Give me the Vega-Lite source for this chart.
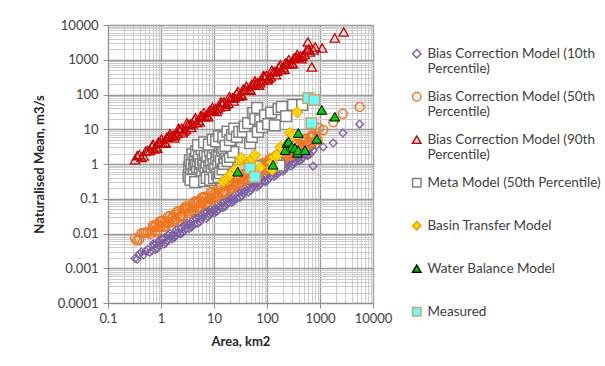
{
  "$schema": "https://vega.github.io/schema/vega-lite/v6.json",
  "width": 265,
  "height": 278,
  "autosize": "none",
  "padding": {"left": 108, "top": 25, "right": 232, "bottom": 63},
  "background": "#ffffff",
  "config": {
    "font": "Lato",
    "view": {"stroke": "#8c8c8c", "strokeWidth": 1},
    "axis": {"domainColor": "#8c8c8c", "labelColor": "#404040", "titleColor": "#262626"}
  },
  "data": {"values": [
{"series":"Bias Correction Model (10th Percentile)","x":0.324,"y":0.0019},{"series":"Bias Correction Model (10th Percentile)","x":0.389,"y":0.00257},{"series":"Bias Correction Model (10th Percentile)","x":0.468,"y":0.0024},{"series":"Bias Correction Model (10th Percentile)","x":0.562,"y":0.00347},{"series":"Bias Correction Model (10th Percentile)","x":0.676,"y":0.00324},{"series":"Bias Correction Model (10th Percentile)","x":0.813,"y":0.00501},{"series":"Bias Correction Model (10th Percentile)","x":0.977,"y":0.00513},{"series":"Bias Correction Model (10th Percentile)","x":1.175,"y":0.00759},{"series":"Bias Correction Model (10th Percentile)","x":1.413,"y":0.00692},{"series":"Bias Correction Model (10th Percentile)","x":1.698,"y":0.00933},{"series":"Bias Correction Model (10th Percentile)","x":2.042,"y":0.0107},{"series":"Bias Correction Model (10th Percentile)","x":2.455,"y":0.0148},{"series":"Bias Correction Model (10th Percentile)","x":2.951,"y":0.0135},{"series":"Bias Correction Model (10th Percentile)","x":3.548,"y":0.0195},{"series":"Bias Correction Model (10th Percentile)","x":4.266,"y":0.0182},{"series":"Bias Correction Model (10th Percentile)","x":5.129,"y":0.0282},{"series":"Bias Correction Model (10th Percentile)","x":6.166,"y":0.0288},{"series":"Bias Correction Model (10th Percentile)","x":7.413,"y":0.0427},{"series":"Bias Correction Model (10th Percentile)","x":8.913,"y":0.0389},{"series":"Bias Correction Model (10th Percentile)","x":10.72,"y":0.0525},{"series":"Bias Correction Model (10th Percentile)","x":12.88,"y":0.0603},{"series":"Bias Correction Model (10th Percentile)","x":15.49,"y":0.0832},{"series":"Bias Correction Model (10th Percentile)","x":18.62,"y":0.0759},{"series":"Bias Correction Model (10th Percentile)","x":22.39,"y":0.110},{"series":"Bias Correction Model (10th Percentile)","x":26.92,"y":0.102},{"series":"Bias Correction Model (10th Percentile)","x":32.36,"y":0.158},{"series":"Bias Correction Model (10th Percentile)","x":38.90,"y":0.162},{"series":"Bias Correction Model (10th Percentile)","x":46.77,"y":0.240},{"series":"Bias Correction Model (10th Percentile)","x":56.23,"y":0.224},{"series":"Bias Correction Model (10th Percentile)","x":67.61,"y":0.295},{"series":"Bias Correction Model (10th Percentile)","x":81.28,"y":0.347},{"series":"Bias Correction Model (10th Percentile)","x":97.72,"y":0.468},{"series":"Bias Correction Model (10th Percentile)","x":117.5,"y":0.437},{"series":"Bias Correction Model (10th Percentile)","x":141.3,"y":0.617},{"series":"Bias Correction Model (10th Percentile)","x":169.8,"y":0.589},{"series":"Bias Correction Model (10th Percentile)","x":204.2,"y":0.891},{"series":"Bias Correction Model (10th Percentile)","x":245.5,"y":0.933},{"series":"Bias Correction Model (10th Percentile)","x":295.1,"y":1.349},{"series":"Bias Correction Model (10th Percentile)","x":354.8,"y":1.259},{"series":"Bias Correction Model (10th Percentile)","x":426.6,"y":1.66},{"series":"Bias Correction Model (10th Percentile)","x":512.9,"y":1.95},{"series":"Bias Correction Model (10th Percentile)","x":616.6,"y":2.63},{"series":"Bias Correction Model (10th Percentile)","x":741.3,"y":2.455},{"series":"Bias Correction Model (10th Percentile)","x":851.1,"y":3.388},
{"series":"Bias Correction Model (10th Percentile)","x":0.355,"y":0.00182},{"series":"Bias Correction Model (10th Percentile)","x":0.427,"y":0.00295},{"series":"Bias Correction Model (10th Percentile)","x":0.513,"y":0.00309},{"series":"Bias Correction Model (10th Percentile)","x":0.617,"y":0.00288},{"series":"Bias Correction Model (10th Percentile)","x":0.741,"y":0.00468},{"series":"Bias Correction Model (10th Percentile)","x":0.891,"y":0.00457},{"series":"Bias Correction Model (10th Percentile)","x":1.072,"y":0.00708},{"series":"Bias Correction Model (10th Percentile)","x":1.288,"y":0.00617},{"series":"Bias Correction Model (10th Percentile)","x":1.549,"y":0.00832},{"series":"Bias Correction Model (10th Percentile)","x":1.862,"y":0.00851},{"series":"Bias Correction Model (10th Percentile)","x":2.239,"y":0.01023},{"series":"Bias Correction Model (10th Percentile)","x":2.692,"y":0.0166},{"series":"Bias Correction Model (10th Percentile)","x":3.236,"y":0.01738},{"series":"Bias Correction Model (10th Percentile)","x":3.890,"y":0.01622},{"series":"Bias Correction Model (10th Percentile)","x":4.677,"y":0.0263},{"series":"Bias Correction Model (10th Percentile)","x":5.623,"y":0.0257},{"series":"Bias Correction Model (10th Percentile)","x":6.761,"y":0.0398},{"series":"Bias Correction Model (10th Percentile)","x":8.128,"y":0.0355},{"series":"Bias Correction Model (10th Percentile)","x":9.772,"y":0.0468},{"series":"Bias Correction Model (10th Percentile)","x":11.75,"y":0.0479},{"series":"Bias Correction Model (10th Percentile)","x":14.13,"y":0.0575},{"series":"Bias Correction Model (10th Percentile)","x":16.98,"y":0.0955},{"series":"Bias Correction Model (10th Percentile)","x":20.42,"y":0.0977},{"series":"Bias Correction Model (10th Percentile)","x":24.55,"y":0.0933},{"series":"Bias Correction Model (10th Percentile)","x":29.51,"y":0.148},{"series":"Bias Correction Model (10th Percentile)","x":35.48,"y":0.1445},{"series":"Bias Correction Model (10th Percentile)","x":42.66,"y":0.224},{"series":"Bias Correction Model (10th Percentile)","x":51.29,"y":0.1995},{"series":"Bias Correction Model (10th Percentile)","x":61.66,"y":0.263},{"series":"Bias Correction Model (10th Percentile)","x":74.13,"y":0.269},{"series":"Bias Correction Model (10th Percentile)","x":89.13,"y":0.324},{"series":"Bias Correction Model (10th Percentile)","x":107.2,"y":0.537},{"series":"Bias Correction Model (10th Percentile)","x":128.8,"y":0.55},{"series":"Bias Correction Model (10th Percentile)","x":154.9,"y":0.525},{"series":"Bias Correction Model (10th Percentile)","x":186.2,"y":0.832},{"series":"Bias Correction Model (10th Percentile)","x":223.9,"y":0.813},{"series":"Bias Correction Model (10th Percentile)","x":269.2,"y":1.288},{"series":"Bias Correction Model (10th Percentile)","x":323.6,"y":1.122},{"series":"Bias Correction Model (10th Percentile)","x":389.0,"y":1.514},{"series":"Bias Correction Model (10th Percentile)","x":467.7,"y":1.549},{"series":"Bias Correction Model (10th Percentile)","x":562.3,"y":1.862},{"series":"Bias Correction Model (10th Percentile)","x":676.1,"y":3.02},
{"series":"Bias Correction Model (10th Percentile)","x":0.708,"y":0.00501},{"series":"Bias Correction Model (10th Percentile)","x":0.851,"y":0.00372},{"series":"Bias Correction Model (10th Percentile)","x":1.023,"y":0.00708},{"series":"Bias Correction Model (10th Percentile)","x":1.230,"y":0.00525},{"series":"Bias Correction Model (10th Percentile)","x":1.479,"y":0.01},{"series":"Bias Correction Model (10th Percentile)","x":1.778,"y":0.00759},{"series":"Bias Correction Model (10th Percentile)","x":2.138,"y":0.01413},{"series":"Bias Correction Model (10th Percentile)","x":2.570,"y":0.01072},{"series":"Bias Correction Model (10th Percentile)","x":3.090,"y":0.01995},{"series":"Bias Correction Model (10th Percentile)","x":3.715,"y":0.01514},{"series":"Bias Correction Model (10th Percentile)","x":4.467,"y":0.0282},{"series":"Bias Correction Model (10th Percentile)","x":5.370,"y":0.02138},{"series":"Bias Correction Model (10th Percentile)","x":6.457,"y":0.0398},{"series":"Bias Correction Model (10th Percentile)","x":7.762,"y":0.0302},{"series":"Bias Correction Model (10th Percentile)","x":9.333,"y":0.0562},{"series":"Bias Correction Model (10th Percentile)","x":11.22,"y":0.0427},{"series":"Bias Correction Model (10th Percentile)","x":13.49,"y":0.0794},{"series":"Bias Correction Model (10th Percentile)","x":16.22,"y":0.0603},{"series":"Bias Correction Model (10th Percentile)","x":19.50,"y":0.1122},{"series":"Bias Correction Model (10th Percentile)","x":23.44,"y":0.0851},{"series":"Bias Correction Model (10th Percentile)","x":28.18,"y":0.1585},{"series":"Bias Correction Model (10th Percentile)","x":33.88,"y":0.1202},{"series":"Bias Correction Model (10th Percentile)","x":40.74,"y":0.224},{"series":"Bias Correction Model (10th Percentile)","x":48.98,"y":0.1698},{"series":"Bias Correction Model (10th Percentile)","x":58.88,"y":0.3162},{"series":"Bias Correction Model (10th Percentile)","x":70.79,"y":0.240},{"series":"Bias Correction Model (10th Percentile)","x":85.11,"y":0.4467},{"series":"Bias Correction Model (10th Percentile)","x":102.3,"y":0.339},{"series":"Bias Correction Model (10th Percentile)","x":123.0,"y":0.631},{"series":"Bias Correction Model (10th Percentile)","x":147.9,"y":0.479},{"series":"Bias Correction Model (10th Percentile)","x":177.8,"y":0.912},{"series":"Bias Correction Model (10th Percentile)","x":213.8,"y":0.676},{"series":"Bias Correction Model (10th Percentile)","x":257.0,"y":1.288},{"series":"Bias Correction Model (10th Percentile)","x":309.0,"y":0.955},{"series":"Bias Correction Model (10th Percentile)","x":371.5,"y":1.82},{"series":"Bias Correction Model (10th Percentile)","x":446.7,"y":1.349},{"series":"Bias Correction Model (10th Percentile)","x":537.0,"y":2.57},{"series":"Bias Correction Model (10th Percentile)","x":645.7,"y":1.905},
{"series":"Bias Correction Model (10th Percentile)","x":0.776,"y":0.00347},{"series":"Bias Correction Model (10th Percentile)","x":0.933,"y":0.00646},{"series":"Bias Correction Model (10th Percentile)","x":1.122,"y":0.0049},{"series":"Bias Correction Model (10th Percentile)","x":1.349,"y":0.00912},{"series":"Bias Correction Model (10th Percentile)","x":1.622,"y":0.00692},{"series":"Bias Correction Model (10th Percentile)","x":1.950,"y":0.01288},{"series":"Bias Correction Model (10th Percentile)","x":2.344,"y":0.00977},{"series":"Bias Correction Model (10th Percentile)","x":2.818,"y":0.0182},{"series":"Bias Correction Model (10th Percentile)","x":3.388,"y":0.0138},{"series":"Bias Correction Model (10th Percentile)","x":4.074,"y":0.0257},{"series":"Bias Correction Model (10th Percentile)","x":4.898,"y":0.0195},{"series":"Bias Correction Model (10th Percentile)","x":5.888,"y":0.0363},{"series":"Bias Correction Model (10th Percentile)","x":7.079,"y":0.0275},{"series":"Bias Correction Model (10th Percentile)","x":8.511,"y":0.0513},{"series":"Bias Correction Model (10th Percentile)","x":10.23,"y":0.0389},{"series":"Bias Correction Model (10th Percentile)","x":12.30,"y":0.0724},{"series":"Bias Correction Model (10th Percentile)","x":14.79,"y":0.055},{"series":"Bias Correction Model (10th Percentile)","x":17.78,"y":0.1047},{"series":"Bias Correction Model (10th Percentile)","x":21.38,"y":0.0776},{"series":"Bias Correction Model (10th Percentile)","x":25.70,"y":0.1479},{"series":"Bias Correction Model (10th Percentile)","x":30.90,"y":0.1096},{"series":"Bias Correction Model (10th Percentile)","x":37.15,"y":0.209},{"series":"Bias Correction Model (10th Percentile)","x":44.67,"y":0.1549},{"series":"Bias Correction Model (10th Percentile)","x":53.70,"y":0.295},{"series":"Bias Correction Model (10th Percentile)","x":64.57,"y":0.219},{"series":"Bias Correction Model (10th Percentile)","x":77.62,"y":0.417},{"series":"Bias Correction Model (10th Percentile)","x":93.33,"y":0.309},{"series":"Bias Correction Model (10th Percentile)","x":112.2,"y":0.589},{"series":"Bias Correction Model (10th Percentile)","x":134.9,"y":0.437},{"series":"Bias Correction Model (10th Percentile)","x":162.2,"y":0.832},{"series":"Bias Correction Model (10th Percentile)","x":195.0,"y":0.617},{"series":"Bias Correction Model (10th Percentile)","x":234.4,"y":1.175},{"series":"Bias Correction Model (10th Percentile)","x":281.8,"y":0.871},{"series":"Bias Correction Model (10th Percentile)","x":338.8,"y":1.66},{"series":"Bias Correction Model (10th Percentile)","x":407.4,"y":1.23},{"series":"Bias Correction Model (10th Percentile)","x":489.8,"y":2.344},{"series":"Bias Correction Model (10th Percentile)","x":588.8,"y":1.738},{"series":"Bias Correction Model (10th Percentile)","x":707.9,"y":3.311},
{"series":"Bias Correction Model (10th Percentile)","x":740,"y":0.87},{"series":"Bias Correction Model (10th Percentile)","x":1150,"y":3.1},{"series":"Bias Correction Model (10th Percentile)","x":1780,"y":4.0},{"series":"Bias Correction Model (10th Percentile)","x":2700,"y":7.8},{"series":"Bias Correction Model (10th Percentile)","x":5600,"y":14},
{"series":"Bias Correction Model (50th Percentile)","x":0.324,"y":0.00724},{"series":"Bias Correction Model (50th Percentile)","x":0.389,"y":0.00692},{"series":"Bias Correction Model (50th Percentile)","x":0.468,"y":0.01047},{"series":"Bias Correction Model (50th Percentile)","x":0.562,"y":0.01096},{"series":"Bias Correction Model (50th Percentile)","x":0.676,"y":0.01175},{"series":"Bias Correction Model (50th Percentile)","x":0.813,"y":0.01778},{"series":"Bias Correction Model (50th Percentile)","x":0.977,"y":0.01622},{"series":"Bias Correction Model (50th Percentile)","x":1.175,"y":0.02138},{"series":"Bias Correction Model (50th Percentile)","x":1.413,"y":0.02042},{"series":"Bias Correction Model (50th Percentile)","x":1.698,"y":0.0309},{"series":"Bias Correction Model (50th Percentile)","x":2.042,"y":0.0355},{"series":"Bias Correction Model (50th Percentile)","x":2.455,"y":0.0339},{"series":"Bias Correction Model (50th Percentile)","x":2.951,"y":0.0513},{"series":"Bias Correction Model (50th Percentile)","x":3.548,"y":0.0537},{"series":"Bias Correction Model (50th Percentile)","x":4.266,"y":0.0575},{"series":"Bias Correction Model (50th Percentile)","x":5.129,"y":0.0871},{"series":"Bias Correction Model (50th Percentile)","x":6.166,"y":0.0813},{"series":"Bias Correction Model (50th Percentile)","x":7.413,"y":0.1072},{"series":"Bias Correction Model (50th Percentile)","x":8.913,"y":0.1023},{"series":"Bias Correction Model (50th Percentile)","x":10.72,"y":0.155},{"series":"Bias Correction Model (50th Percentile)","x":12.88,"y":0.1738},{"series":"Bias Correction Model (50th Percentile)","x":15.49,"y":0.166},{"series":"Bias Correction Model (50th Percentile)","x":18.62,"y":0.2512},{"series":"Bias Correction Model (50th Percentile)","x":22.39,"y":0.263},{"series":"Bias Correction Model (50th Percentile)","x":26.92,"y":0.282},{"series":"Bias Correction Model (50th Percentile)","x":32.36,"y":0.427},{"series":"Bias Correction Model (50th Percentile)","x":38.90,"y":0.398},{"series":"Bias Correction Model (50th Percentile)","x":46.77,"y":0.525},{"series":"Bias Correction Model (50th Percentile)","x":56.23,"y":0.501},{"series":"Bias Correction Model (50th Percentile)","x":67.61,"y":0.759},{"series":"Bias Correction Model (50th Percentile)","x":81.28,"y":0.871},{"series":"Bias Correction Model (50th Percentile)","x":97.72,"y":0.813},{"series":"Bias Correction Model (50th Percentile)","x":117.5,"y":1.23},{"series":"Bias Correction Model (50th Percentile)","x":141.3,"y":1.288},{"series":"Bias Correction Model (50th Percentile)","x":169.8,"y":1.38},{"series":"Bias Correction Model (50th Percentile)","x":204.2,"y":2.089},{"series":"Bias Correction Model (50th Percentile)","x":245.5,"y":1.95},{"series":"Bias Correction Model (50th Percentile)","x":295.1,"y":2.57},{"series":"Bias Correction Model (50th Percentile)","x":354.8,"y":2.455},{"series":"Bias Correction Model (50th Percentile)","x":426.6,"y":3.715},{"series":"Bias Correction Model (50th Percentile)","x":512.9,"y":4.266},{"series":"Bias Correction Model (50th Percentile)","x":616.6,"y":4.074},{"series":"Bias Correction Model (50th Percentile)","x":741.3,"y":6.166},{"series":"Bias Correction Model (50th Percentile)","x":851.1,"y":5.495},
{"series":"Bias Correction Model (50th Percentile)","x":0.355,"y":0.00631},{"series":"Bias Correction Model (50th Percentile)","x":0.427,"y":0.01023},{"series":"Bias Correction Model (50th Percentile)","x":0.513,"y":0.01047},{"series":"Bias Correction Model (50th Percentile)","x":0.617,"y":0.00977},{"series":"Bias Correction Model (50th Percentile)","x":0.741,"y":0.01549},{"series":"Bias Correction Model (50th Percentile)","x":0.891,"y":0.01514},{"series":"Bias Correction Model (50th Percentile)","x":1.072,"y":0.02291},{"series":"Bias Correction Model (50th Percentile)","x":1.288,"y":0.01995},{"series":"Bias Correction Model (50th Percentile)","x":1.549,"y":0.0263},{"series":"Bias Correction Model (50th Percentile)","x":1.862,"y":0.0257},{"series":"Bias Correction Model (50th Percentile)","x":2.239,"y":0.0316},{"series":"Bias Correction Model (50th Percentile)","x":2.692,"y":0.0513},{"series":"Bias Correction Model (50th Percentile)","x":3.236,"y":0.0525},{"series":"Bias Correction Model (50th Percentile)","x":3.890,"y":0.0479},{"series":"Bias Correction Model (50th Percentile)","x":4.677,"y":0.0759},{"series":"Bias Correction Model (50th Percentile)","x":5.623,"y":0.0741},{"series":"Bias Correction Model (50th Percentile)","x":6.761,"y":0.1122},{"series":"Bias Correction Model (50th Percentile)","x":8.128,"y":0.0977},{"series":"Bias Correction Model (50th Percentile)","x":9.772,"y":0.1288},{"series":"Bias Correction Model (50th Percentile)","x":11.75,"y":0.1318},{"series":"Bias Correction Model (50th Percentile)","x":14.13,"y":0.1549},{"series":"Bias Correction Model (50th Percentile)","x":16.98,"y":0.2512},{"series":"Bias Correction Model (50th Percentile)","x":20.42,"y":0.257},{"series":"Bias Correction Model (50th Percentile)","x":24.55,"y":0.240},{"series":"Bias Correction Model (50th Percentile)","x":29.51,"y":0.3715},{"series":"Bias Correction Model (50th Percentile)","x":35.48,"y":0.3631},{"series":"Bias Correction Model (50th Percentile)","x":42.66,"y":0.550},{"series":"Bias Correction Model (50th Percentile)","x":51.29,"y":0.479},{"series":"Bias Correction Model (50th Percentile)","x":61.66,"y":0.631},{"series":"Bias Correction Model (50th Percentile)","x":74.13,"y":0.646},{"series":"Bias Correction Model (50th Percentile)","x":89.13,"y":0.759},{"series":"Bias Correction Model (50th Percentile)","x":107.2,"y":1.23},{"series":"Bias Correction Model (50th Percentile)","x":128.8,"y":1.259},{"series":"Bias Correction Model (50th Percentile)","x":154.9,"y":1.175},{"series":"Bias Correction Model (50th Percentile)","x":186.2,"y":1.862},{"series":"Bias Correction Model (50th Percentile)","x":223.9,"y":1.82},{"series":"Bias Correction Model (50th Percentile)","x":269.2,"y":2.754},{"series":"Bias Correction Model (50th Percentile)","x":323.6,"y":2.399},{"series":"Bias Correction Model (50th Percentile)","x":389.0,"y":3.09},{"series":"Bias Correction Model (50th Percentile)","x":467.7,"y":3.162},{"series":"Bias Correction Model (50th Percentile)","x":562.3,"y":3.715},{"series":"Bias Correction Model (50th Percentile)","x":676.1,"y":6.026},
{"series":"Bias Correction Model (50th Percentile)","x":0.708,"y":0.01698},{"series":"Bias Correction Model (50th Percentile)","x":0.851,"y":0.01202},{"series":"Bias Correction Model (50th Percentile)","x":1.023,"y":0.02344},{"series":"Bias Correction Model (50th Percentile)","x":1.230,"y":0.0166},{"series":"Bias Correction Model (50th Percentile)","x":1.479,"y":0.0324},{"series":"Bias Correction Model (50th Percentile)","x":1.778,"y":0.0229},{"series":"Bias Correction Model (50th Percentile)","x":2.138,"y":0.0447},{"series":"Bias Correction Model (50th Percentile)","x":2.570,"y":0.0316},{"series":"Bias Correction Model (50th Percentile)","x":3.090,"y":0.0617},{"series":"Bias Correction Model (50th Percentile)","x":3.715,"y":0.0437},{"series":"Bias Correction Model (50th Percentile)","x":4.467,"y":0.0851},{"series":"Bias Correction Model (50th Percentile)","x":5.370,"y":0.0589},{"series":"Bias Correction Model (50th Percentile)","x":6.457,"y":0.1148},{"series":"Bias Correction Model (50th Percentile)","x":7.762,"y":0.0813},{"series":"Bias Correction Model (50th Percentile)","x":9.333,"y":0.1585},{"series":"Bias Correction Model (50th Percentile)","x":11.22,"y":0.1122},{"series":"Bias Correction Model (50th Percentile)","x":13.49,"y":0.219},{"series":"Bias Correction Model (50th Percentile)","x":16.22,"y":0.1549},{"series":"Bias Correction Model (50th Percentile)","x":19.50,"y":0.302},{"series":"Bias Correction Model (50th Percentile)","x":23.44,"y":0.2138},{"series":"Bias Correction Model (50th Percentile)","x":28.18,"y":0.417},{"series":"Bias Correction Model (50th Percentile)","x":33.88,"y":0.295},{"series":"Bias Correction Model (50th Percentile)","x":40.74,"y":0.575},{"series":"Bias Correction Model (50th Percentile)","x":48.98,"y":0.407},{"series":"Bias Correction Model (50th Percentile)","x":58.88,"y":0.794},{"series":"Bias Correction Model (50th Percentile)","x":70.79,"y":0.55},{"series":"Bias Correction Model (50th Percentile)","x":85.11,"y":1.072},{"series":"Bias Correction Model (50th Percentile)","x":102.3,"y":0.759},{"series":"Bias Correction Model (50th Percentile)","x":123.0,"y":1.479},{"series":"Bias Correction Model (50th Percentile)","x":147.9,"y":1.047},{"series":"Bias Correction Model (50th Percentile)","x":177.8,"y":2.042},{"series":"Bias Correction Model (50th Percentile)","x":213.8,"y":1.445},{"series":"Bias Correction Model (50th Percentile)","x":257.0,"y":2.818},{"series":"Bias Correction Model (50th Percentile)","x":309.0,"y":1.995},{"series":"Bias Correction Model (50th Percentile)","x":371.5,"y":3.89},{"series":"Bias Correction Model (50th Percentile)","x":446.7,"y":2.754},{"series":"Bias Correction Model (50th Percentile)","x":537.0,"y":5.37},{"series":"Bias Correction Model (50th Percentile)","x":645.7,"y":3.802},
{"series":"Bias Correction Model (50th Percentile)","x":0.776,"y":0.01122},{"series":"Bias Correction Model (50th Percentile)","x":0.933,"y":0.02188},{"series":"Bias Correction Model (50th Percentile)","x":1.122,"y":0.01549},{"series":"Bias Correction Model (50th Percentile)","x":1.349,"y":0.0302},{"series":"Bias Correction Model (50th Percentile)","x":1.622,"y":0.0209},{"series":"Bias Correction Model (50th Percentile)","x":1.950,"y":0.0407},{"series":"Bias Correction Model (50th Percentile)","x":2.344,"y":0.0288},{"series":"Bias Correction Model (50th Percentile)","x":2.818,"y":0.0562},{"series":"Bias Correction Model (50th Percentile)","x":3.388,"y":0.0398},{"series":"Bias Correction Model (50th Percentile)","x":4.074,"y":0.0776},{"series":"Bias Correction Model (50th Percentile)","x":4.898,"y":0.055},{"series":"Bias Correction Model (50th Percentile)","x":5.888,"y":0.1072},{"series":"Bias Correction Model (50th Percentile)","x":7.079,"y":0.0759},{"series":"Bias Correction Model (50th Percentile)","x":8.511,"y":0.1479},{"series":"Bias Correction Model (50th Percentile)","x":10.23,"y":0.1047},{"series":"Bias Correction Model (50th Percentile)","x":12.30,"y":0.204},{"series":"Bias Correction Model (50th Percentile)","x":14.79,"y":0.1445},{"series":"Bias Correction Model (50th Percentile)","x":17.78,"y":0.275},{"series":"Bias Correction Model (50th Percentile)","x":21.38,"y":0.195},{"series":"Bias Correction Model (50th Percentile)","x":25.70,"y":0.38},{"series":"Bias Correction Model (50th Percentile)","x":30.90,"y":0.269},{"series":"Bias Correction Model (50th Percentile)","x":37.15,"y":0.525},{"series":"Bias Correction Model (50th Percentile)","x":44.67,"y":0.3715},{"series":"Bias Correction Model (50th Percentile)","x":53.70,"y":0.724},{"series":"Bias Correction Model (50th Percentile)","x":64.57,"y":0.513},{"series":"Bias Correction Model (50th Percentile)","x":77.62,"y":1.0},{"series":"Bias Correction Model (50th Percentile)","x":93.33,"y":0.708},{"series":"Bias Correction Model (50th Percentile)","x":112.2,"y":1.38},{"series":"Bias Correction Model (50th Percentile)","x":134.9,"y":0.977},{"series":"Bias Correction Model (50th Percentile)","x":162.2,"y":1.905},{"series":"Bias Correction Model (50th Percentile)","x":195.0,"y":1.349},{"series":"Bias Correction Model (50th Percentile)","x":234.4,"y":2.57},{"series":"Bias Correction Model (50th Percentile)","x":281.8,"y":1.82},{"series":"Bias Correction Model (50th Percentile)","x":338.8,"y":3.548},{"series":"Bias Correction Model (50th Percentile)","x":407.4,"y":2.512},{"series":"Bias Correction Model (50th Percentile)","x":489.8,"y":4.898},{"series":"Bias Correction Model (50th Percentile)","x":588.8,"y":3.467},{"series":"Bias Correction Model (50th Percentile)","x":707.9,"y":6.761},
{"series":"Bias Correction Model (50th Percentile)","x":900,"y":4.9},{"series":"Bias Correction Model (50th Percentile)","x":950,"y":10.9},{"series":"Bias Correction Model (50th Percentile)","x":1150,"y":9.5},{"series":"Bias Correction Model (50th Percentile)","x":1780,"y":16},{"series":"Bias Correction Model (50th Percentile)","x":2700,"y":28},{"series":"Bias Correction Model (50th Percentile)","x":5600,"y":44},
{"series":"Bias Correction Model (90th Percentile)","x":0.324,"y":1.318},{"series":"Bias Correction Model (90th Percentile)","x":0.389,"y":1.862},{"series":"Bias Correction Model (90th Percentile)","x":0.468,"y":1.698},{"series":"Bias Correction Model (90th Percentile)","x":0.562,"y":2.455},{"series":"Bias Correction Model (90th Percentile)","x":0.676,"y":3.236},{"series":"Bias Correction Model (90th Percentile)","x":0.813,"y":3.09},{"series":"Bias Correction Model (90th Percentile)","x":0.977,"y":4.074},{"series":"Bias Correction Model (90th Percentile)","x":1.175,"y":4.169},{"series":"Bias Correction Model (90th Percentile)","x":1.413,"y":6.166},{"series":"Bias Correction Model (90th Percentile)","x":1.698,"y":6.761},{"series":"Bias Correction Model (90th Percentile)","x":2.042,"y":7.586},{"series":"Bias Correction Model (90th Percentile)","x":2.455,"y":10.72},{"series":"Bias Correction Model (90th Percentile)","x":2.951,"y":9.772},{"series":"Bias Correction Model (90th Percentile)","x":3.548,"y":14.13},{"series":"Bias Correction Model (90th Percentile)","x":4.266,"y":18.62},{"series":"Bias Correction Model (90th Percentile)","x":5.129,"y":17.78},{"series":"Bias Correction Model (90th Percentile)","x":6.166,"y":23.44},{"series":"Bias Correction Model (90th Percentile)","x":7.413,"y":23.99},{"series":"Bias Correction Model (90th Percentile)","x":8.913,"y":35.48},{"series":"Bias Correction Model (90th Percentile)","x":10.72,"y":38.9},{"series":"Bias Correction Model (90th Percentile)","x":12.88,"y":43.65},{"series":"Bias Correction Model (90th Percentile)","x":15.49,"y":61.66},{"series":"Bias Correction Model (90th Percentile)","x":18.62,"y":56.23},{"series":"Bias Correction Model (90th Percentile)","x":22.39,"y":81.28},{"series":"Bias Correction Model (90th Percentile)","x":26.92,"y":107.2},{"series":"Bias Correction Model (90th Percentile)","x":32.36,"y":102.3},{"series":"Bias Correction Model (90th Percentile)","x":38.90,"y":134.9},{"series":"Bias Correction Model (90th Percentile)","x":46.77,"y":138},{"series":"Bias Correction Model (90th Percentile)","x":56.23,"y":204.2},{"series":"Bias Correction Model (90th Percentile)","x":67.61,"y":223.9},{"series":"Bias Correction Model (90th Percentile)","x":81.28,"y":251.2},{"series":"Bias Correction Model (90th Percentile)","x":97.72,"y":354.8},{"series":"Bias Correction Model (90th Percentile)","x":117.5,"y":323.6},{"series":"Bias Correction Model (90th Percentile)","x":141.3,"y":467.7},{"series":"Bias Correction Model (90th Percentile)","x":169.8,"y":616.6},{"series":"Bias Correction Model (90th Percentile)","x":204.2,"y":588.8},{"series":"Bias Correction Model (90th Percentile)","x":245.5,"y":776.2},{"series":"Bias Correction Model (90th Percentile)","x":295.1,"y":794.3},{"series":"Bias Correction Model (90th Percentile)","x":354.8,"y":1175},{"series":"Bias Correction Model (90th Percentile)","x":426.6,"y":1288},{"series":"Bias Correction Model (90th Percentile)","x":512.9,"y":1445},{"series":"Bias Correction Model (90th Percentile)","x":616.6,"y":2042},
{"series":"Bias Correction Model (90th Percentile)","x":0.355,"y":1.738},{"series":"Bias Correction Model (90th Percentile)","x":0.427,"y":1.549},{"series":"Bias Correction Model (90th Percentile)","x":0.513,"y":2.344},{"series":"Bias Correction Model (90th Percentile)","x":0.617,"y":2.455},{"series":"Bias Correction Model (90th Percentile)","x":0.741,"y":2.692},{"series":"Bias Correction Model (90th Percentile)","x":0.891,"y":4.266},{"series":"Bias Correction Model (90th Percentile)","x":1.072,"y":3.981},{"series":"Bias Correction Model (90th Percentile)","x":1.288,"y":5.888},{"series":"Bias Correction Model (90th Percentile)","x":1.549,"y":6.166},{"series":"Bias Correction Model (90th Percentile)","x":1.862,"y":6.607},{"series":"Bias Correction Model (90th Percentile)","x":2.239,"y":10.0},{"series":"Bias Correction Model (90th Percentile)","x":2.692,"y":8.913},{"series":"Bias Correction Model (90th Percentile)","x":3.236,"y":13.49},{"series":"Bias Correction Model (90th Percentile)","x":3.890,"y":14.13},{"series":"Bias Correction Model (90th Percentile)","x":4.677,"y":15.49},{"series":"Bias Correction Model (90th Percentile)","x":5.623,"y":24.55},{"series":"Bias Correction Model (90th Percentile)","x":6.761,"y":22.91},{"series":"Bias Correction Model (90th Percentile)","x":8.128,"y":33.88},{"series":"Bias Correction Model (90th Percentile)","x":9.772,"y":35.48},{"series":"Bias Correction Model (90th Percentile)","x":11.75,"y":38.02},{"series":"Bias Correction Model (90th Percentile)","x":14.13,"y":57.54},{"series":"Bias Correction Model (90th Percentile)","x":16.98,"y":51.29},{"series":"Bias Correction Model (90th Percentile)","x":20.42,"y":77.62},{"series":"Bias Correction Model (90th Percentile)","x":24.55,"y":81.28},{"series":"Bias Correction Model (90th Percentile)","x":29.51,"y":89.13},{"series":"Bias Correction Model (90th Percentile)","x":35.48,"y":141.3},{"series":"Bias Correction Model (90th Percentile)","x":42.66,"y":131.8},{"series":"Bias Correction Model (90th Percentile)","x":51.29,"y":195.0},{"series":"Bias Correction Model (90th Percentile)","x":61.66,"y":204.2},{"series":"Bias Correction Model (90th Percentile)","x":74.13,"y":218.8},{"series":"Bias Correction Model (90th Percentile)","x":89.13,"y":331.1},{"series":"Bias Correction Model (90th Percentile)","x":107.2,"y":295.1},{"series":"Bias Correction Model (90th Percentile)","x":128.8,"y":446.7},{"series":"Bias Correction Model (90th Percentile)","x":154.9,"y":467.7},{"series":"Bias Correction Model (90th Percentile)","x":186.2,"y":512.9},{"series":"Bias Correction Model (90th Percentile)","x":223.9,"y":812.8},{"series":"Bias Correction Model (90th Percentile)","x":269.2,"y":758.6},{"series":"Bias Correction Model (90th Percentile)","x":323.6,"y":1122},{"series":"Bias Correction Model (90th Percentile)","x":389.0,"y":1175},{"series":"Bias Correction Model (90th Percentile)","x":467.7,"y":1259},{"series":"Bias Correction Model (90th Percentile)","x":562.3,"y":1905},
{"series":"Bias Correction Model (90th Percentile)","x":0.708,"y":3.715},{"series":"Bias Correction Model (90th Percentile)","x":0.851,"y":2.818},{"series":"Bias Correction Model (90th Percentile)","x":1.023,"y":5.248},{"series":"Bias Correction Model (90th Percentile)","x":1.230,"y":3.981},{"series":"Bias Correction Model (90th Percentile)","x":1.479,"y":7.413},{"series":"Bias Correction Model (90th Percentile)","x":1.778,"y":5.623},{"series":"Bias Correction Model (90th Percentile)","x":2.138,"y":10.59},{"series":"Bias Correction Model (90th Percentile)","x":2.570,"y":7.943},{"series":"Bias Correction Model (90th Percentile)","x":3.090,"y":15.14},{"series":"Bias Correction Model (90th Percentile)","x":3.715,"y":11.22},{"series":"Bias Correction Model (90th Percentile)","x":4.467,"y":21.38},{"series":"Bias Correction Model (90th Percentile)","x":5.370,"y":16.22},{"series":"Bias Correction Model (90th Percentile)","x":6.457,"y":30.2},{"series":"Bias Correction Model (90th Percentile)","x":7.762,"y":22.91},{"series":"Bias Correction Model (90th Percentile)","x":9.333,"y":42.66},{"series":"Bias Correction Model (90th Percentile)","x":11.22,"y":32.36},{"series":"Bias Correction Model (90th Percentile)","x":13.49,"y":60.95},{"series":"Bias Correction Model (90th Percentile)","x":16.22,"y":45.71},{"series":"Bias Correction Model (90th Percentile)","x":19.50,"y":87.1},{"series":"Bias Correction Model (90th Percentile)","x":23.44,"y":64.57},{"series":"Bias Correction Model (90th Percentile)","x":28.18,"y":123.0},{"series":"Bias Correction Model (90th Percentile)","x":33.88,"y":93.33},{"series":"Bias Correction Model (90th Percentile)","x":40.74,"y":173.8},{"series":"Bias Correction Model (90th Percentile)","x":48.98,"y":131.8},{"series":"Bias Correction Model (90th Percentile)","x":58.88,"y":245.5},{"series":"Bias Correction Model (90th Percentile)","x":70.79,"y":186.2},{"series":"Bias Correction Model (90th Percentile)","x":85.11,"y":350.8},{"series":"Bias Correction Model (90th Percentile)","x":102.3,"y":263.0},{"series":"Bias Correction Model (90th Percentile)","x":123.0,"y":501.2},{"series":"Bias Correction Model (90th Percentile)","x":147.9,"y":371.5},{"series":"Bias Correction Model (90th Percentile)","x":177.8,"y":707.9},{"series":"Bias Correction Model (90th Percentile)","x":213.8,"y":537.0},{"series":"Bias Correction Model (90th Percentile)","x":257.0,"y":1000},{"series":"Bias Correction Model (90th Percentile)","x":309.0,"y":758.6},{"series":"Bias Correction Model (90th Percentile)","x":371.5,"y":1413},{"series":"Bias Correction Model (90th Percentile)","x":446.7,"y":1072},
{"series":"Bias Correction Model (90th Percentile)","x":590,"y":3240},{"series":"Bias Correction Model (90th Percentile)","x":640,"y":1670},{"series":"Bias Correction Model (90th Percentile)","x":700,"y":620},{"series":"Bias Correction Model (90th Percentile)","x":750,"y":1900},{"series":"Bias Correction Model (90th Percentile)","x":810,"y":2330},{"series":"Bias Correction Model (90th Percentile)","x":1100,"y":2180},{"series":"Bias Correction Model (90th Percentile)","x":1900,"y":4230},{"series":"Bias Correction Model (90th Percentile)","x":2800,"y":6300},
{"series":"Meta Model (50th Percentile)","x":3.3,"y":0.45},{"series":"Meta Model (50th Percentile)","x":3.4,"y":0.8},{"series":"Meta Model (50th Percentile)","x":3.5,"y":1.3},{"series":"Meta Model (50th Percentile)","x":3.7,"y":0.6},{"series":"Meta Model (50th Percentile)","x":3.8,"y":1.0},{"series":"Meta Model (50th Percentile)","x":3.9,"y":1.9},{"series":"Meta Model (50th Percentile)","x":4.1,"y":0.5},{"series":"Meta Model (50th Percentile)","x":4.2,"y":0.75},{"series":"Meta Model (50th Percentile)","x":4.3,"y":1.4},{"series":"Meta Model (50th Percentile)","x":4.5,"y":0.95},{"series":"Meta Model (50th Percentile)","x":4.6,"y":2.3},{"series":"Meta Model (50th Percentile)","x":4.8,"y":0.6},{"series":"Meta Model (50th Percentile)","x":4.9,"y":1.2},{"series":"Meta Model (50th Percentile)","x":5.1,"y":0.4},{"series":"Meta Model (50th Percentile)","x":5.2,"y":1.7},{"series":"Meta Model (50th Percentile)","x":5.4,"y":0.8},{"series":"Meta Model (50th Percentile)","x":5.6,"y":1.0},{"series":"Meta Model (50th Percentile)","x":5.8,"y":2.7},{"series":"Meta Model (50th Percentile)","x":6.0,"y":0.55},{"series":"Meta Model (50th Percentile)","x":6.2,"y":1.3},{"series":"Meta Model (50th Percentile)","x":6.4,"y":0.9},{"series":"Meta Model (50th Percentile)","x":6.7,"y":2.0},{"series":"Meta Model (50th Percentile)","x":6.9,"y":0.7},{"series":"Meta Model (50th Percentile)","x":7.2,"y":1.1},{"series":"Meta Model (50th Percentile)","x":7.5,"y":1.6},{"series":"Meta Model (50th Percentile)","x":7.8,"y":0.5},{"series":"Meta Model (50th Percentile)","x":8.1,"y":0.85},{"series":"Meta Model (50th Percentile)","x":8.4,"y":2.4},{"series":"Meta Model (50th Percentile)","x":8.7,"y":1.2},{"series":"Meta Model (50th Percentile)","x":9.0,"y":0.65},{"series":"Meta Model (50th Percentile)","x":9.4,"y":1.8},{"series":"Meta Model (50th Percentile)","x":9.8,"y":1.0},{"series":"Meta Model (50th Percentile)","x":10.2,"y":3.0},{"series":"Meta Model (50th Percentile)","x":10.6,"y":0.75},{"series":"Meta Model (50th Percentile)","x":11,"y":1.4},{"series":"Meta Model (50th Percentile)","x":11.5,"y":2.2},{"series":"Meta Model (50th Percentile)","x":12,"y":0.9},{"series":"Meta Model (50th Percentile)","x":12.5,"y":1.7},{"series":"Meta Model (50th Percentile)","x":13,"y":3.2},{"series":"Meta Model (50th Percentile)","x":13.5,"y":1.2},{"series":"Meta Model (50th Percentile)","x":14,"y":2.5},
{"series":"Meta Model (50th Percentile)","x":3.6,"y":0.35},{"series":"Meta Model (50th Percentile)","x":4.4,"y":0.3},{"series":"Meta Model (50th Percentile)","x":6.5,"y":0.32},{"series":"Meta Model (50th Percentile)","x":7.3,"y":0.4},{"series":"Meta Model (50th Percentile)","x":8.5,"y":0.35},{"series":"Meta Model (50th Percentile)","x":10,"y":0.4},{"series":"Meta Model (50th Percentile)","x":11.5,"y":0.5},{"series":"Meta Model (50th Percentile)","x":12.2,"y":0.42},{"series":"Meta Model (50th Percentile)","x":13,"y":0.55},{"series":"Meta Model (50th Percentile)","x":14.5,"y":0.7},{"series":"Meta Model (50th Percentile)","x":15.5,"y":1.0},{"series":"Meta Model (50th Percentile)","x":16,"y":1.5},{"series":"Meta Model (50th Percentile)","x":17,"y":2.0},{"series":"Meta Model (50th Percentile)","x":18,"y":1.2},{"series":"Meta Model (50th Percentile)","x":19,"y":2.6},{"series":"Meta Model (50th Percentile)","x":20,"y":1.6},{"series":"Meta Model (50th Percentile)","x":15,"y":2.9},{"series":"Meta Model (50th Percentile)","x":21,"y":3.0},{"series":"Meta Model (50th Percentile)","x":23,"y":2.2},
{"series":"Meta Model (50th Percentile)","x":5,"y":3.5},{"series":"Meta Model (50th Percentile)","x":6.5,"y":4.2},{"series":"Meta Model (50th Percentile)","x":8,"y":3.6},{"series":"Meta Model (50th Percentile)","x":9.5,"y":5.0},{"series":"Meta Model (50th Percentile)","x":11,"y":4.5},{"series":"Meta Model (50th Percentile)","x":12.5,"y":6.3},{"series":"Meta Model (50th Percentile)","x":15,"y":5.8},{"series":"Meta Model (50th Percentile)","x":16.5,"y":3.3},{"series":"Meta Model (50th Percentile)","x":18,"y":8.5},{"series":"Meta Model (50th Percentile)","x":20,"y":4.9},{"series":"Meta Model (50th Percentile)","x":22,"y":6.8},{"series":"Meta Model (50th Percentile)","x":24,"y":10.5},{"series":"Meta Model (50th Percentile)","x":27,"y":6.0},{"series":"Meta Model (50th Percentile)","x":30,"y":8.4},{"series":"Meta Model (50th Percentile)","x":35,"y":8.4},{"series":"Meta Model (50th Percentile)","x":38,"y":12},{"series":"Meta Model (50th Percentile)","x":44,"y":15},{"series":"Meta Model (50th Percentile)","x":48,"y":4.0},{"series":"Meta Model (50th Percentile)","x":52,"y":6.0},{"series":"Meta Model (50th Percentile)","x":55,"y":29},{"series":"Meta Model (50th Percentile)","x":60,"y":20},{"series":"Meta Model (50th Percentile)","x":65,"y":41},{"series":"Meta Model (50th Percentile)","x":67,"y":8.4},{"series":"Meta Model (50th Percentile)","x":65,"y":0.85},{"series":"Meta Model (50th Percentile)","x":75,"y":18},{"series":"Meta Model (50th Percentile)","x":81,"y":11.5},{"series":"Meta Model (50th Percentile)","x":92,"y":25},{"series":"Meta Model (50th Percentile)","x":105,"y":14},{"series":"Meta Model (50th Percentile)","x":120,"y":30},{"series":"Meta Model (50th Percentile)","x":140,"y":13},{"series":"Meta Model (50th Percentile)","x":150,"y":1.2},{"series":"Meta Model (50th Percentile)","x":170,"y":0.9},{"series":"Meta Model (50th Percentile)","x":165,"y":38},{"series":"Meta Model (50th Percentile)","x":190,"y":44},{"series":"Meta Model (50th Percentile)","x":230,"y":24},{"series":"Meta Model (50th Percentile)","x":310,"y":50},{"series":"Meta Model (50th Percentile)","x":460,"y":50},
{"series":"Basin Transfer Model","x":15,"y":0.31},{"series":"Basin Transfer Model","x":16.5,"y":0.36},{"series":"Basin Transfer Model","x":18,"y":0.42},{"series":"Basin Transfer Model","x":19.5,"y":0.47},{"series":"Basin Transfer Model","x":21,"y":0.52},{"series":"Basin Transfer Model","x":25,"y":0.7},{"series":"Basin Transfer Model","x":31,"y":1.3},{"series":"Basin Transfer Model","x":33,"y":1.5},{"series":"Basin Transfer Model","x":44,"y":0.95},{"series":"Basin Transfer Model","x":50,"y":1.2},{"series":"Basin Transfer Model","x":52,"y":1.4},{"series":"Basin Transfer Model","x":59,"y":1.8},{"series":"Basin Transfer Model","x":74,"y":0.8},{"series":"Basin Transfer Model","x":125,"y":0.68},{"series":"Basin Transfer Model","x":125,"y":1.1},{"series":"Basin Transfer Model","x":135,"y":1.6},{"series":"Basin Transfer Model","x":155,"y":1.8},{"series":"Basin Transfer Model","x":180,"y":3.1},{"series":"Basin Transfer Model","x":240,"y":3.5},{"series":"Basin Transfer Model","x":270,"y":7.8},{"series":"Basin Transfer Model","x":310,"y":6.8},{"series":"Basin Transfer Model","x":370,"y":31},
{"series":"Water Balance Model","x":28,"y":0.6},{"series":"Water Balance Model","x":130,"y":0.95},{"series":"Water Balance Model","x":220,"y":2.5},{"series":"Water Balance Model","x":238,"y":4.0},{"series":"Water Balance Model","x":255,"y":4.4},{"series":"Water Balance Model","x":295,"y":3.1},{"series":"Water Balance Model","x":337,"y":2.9},{"series":"Water Balance Model","x":370,"y":2.1},{"series":"Water Balance Model","x":385,"y":2.5},{"series":"Water Balance Model","x":390,"y":7.8},{"series":"Water Balance Model","x":520,"y":2.5},{"series":"Water Balance Model","x":870,"y":5.3},{"series":"Water Balance Model","x":1080,"y":36},{"series":"Water Balance Model","x":1910,"y":23},
{"series":"Measured","x":600,"y":79},{"series":"Measured","x":780,"y":69},{"series":"Measured","x":690,"y":15},{"series":"Measured","x":48,"y":0.76},{"series":"Measured","x":59,"y":0.43}
  ]},
  "encoding": {
    "x": {"field": "x", "type": "quantitative",
      "scale": {"type": "log", "domain": [0.1, 10000], "nice": false},
      "axis": {
        "values": [0.1,0.2,0.3,0.4,0.5,0.6,0.7,0.8,0.9,1,2,3,4,5,6,7,8,9,10,20,30,40,50,60,70,80,90,100,200,300,400,500,600,700,800,900,1000,2000,3000,4000,5000,6000,7000,8000,9000,10000],
        "title": "Area, km2", "titleFontWeight": "bold", "titleFontSize": 13, "titlePadding": 10,
        "labelExpr": "abs(log(datum.value)/LN10 - round(log(datum.value)/LN10)) < 0.01 ? format(datum.value, '~g') : ''",
        "labelFontSize": 13, "labelPadding": 4, "labelOverlap": false, "labelFlush": false, "labelBound": false,
        "grid": true,
        "gridColor": {"condition": {"test": "abs(log(datum.value)/LN10 - round(log(datum.value)/LN10)) < 0.01", "value": "#999999"}, "value": "#cccccc"},
        "gridWidth": {"condition": {"test": "abs(log(datum.value)/LN10 - round(log(datum.value)/LN10)) < 0.01", "value": 1.3}, "value": 1},
        "tickSize": 5,
        "tickColor": {"condition": {"test": "abs(log(datum.value)/LN10 - round(log(datum.value)/LN10)) < 0.01", "value": "#8c8c8c"}, "value": "transparent"}
      }
    },
    "y": {"field": "y", "type": "quantitative",
      "scale": {"type": "log", "domain": [0.0001, 10000], "nice": false},
      "axis": {
        "values": [0.0001,0.0002,0.0003,0.0004,0.0005,0.0006,0.0007,0.0008,0.0009,0.001,0.002,0.003,0.004,0.005,0.006,0.007,0.008,0.009,0.01,0.02,0.03,0.04,0.05,0.06,0.07,0.08,0.09,0.1,0.2,0.3,0.4,0.5,0.6,0.7,0.8,0.9,1,2,3,4,5,6,7,8,9,10,20,30,40,50,60,70,80,90,100,200,300,400,500,600,700,800,900,1000,2000,3000,4000,5000,6000,7000,8000,9000,10000],
        "title": "Naturalised  Mean, m3/s", "titleFontWeight": "bold", "titleFontSize": 13, "titlePadding": 11,
        "labelExpr": "abs(log(datum.value)/LN10 - round(log(datum.value)/LN10)) < 0.01 ? format(datum.value, '~g') : ''",
        "labelFontSize": 13, "labelPadding": 5, "labelOverlap": false, "labelFlush": false, "labelBound": false,
        "grid": true,
        "gridColor": {"condition": {"test": "abs(log(datum.value)/LN10 - round(log(datum.value)/LN10)) < 0.01", "value": "#999999"}, "value": "#cccccc"},
        "gridWidth": {"condition": {"test": "abs(log(datum.value)/LN10 - round(log(datum.value)/LN10)) < 0.01", "value": 1.3}, "value": 1},
        "tickSize": 5,
        "tickColor": {"condition": {"test": "abs(log(datum.value)/LN10 - round(log(datum.value)/LN10)) < 0.01", "value": "#8c8c8c"}, "value": "transparent"}
      }
    },
    "shape": {"field": "series", "type": "nominal",
      "scale": {"domain": ["Bias Correction Model (10th Percentile)","Bias Correction Model (50th Percentile)","Bias Correction Model (90th Percentile)","Meta Model (50th Percentile)","Basin Transfer Model","Water Balance Model","Measured"],
        "range": ["diamond","circle","triangle-up","square","diamond","triangle-up","square"]},
      "legend": {"title": null, "orient": "none", "legendX": 302, "legendY": 22, "labelExpr": "indexof(datum.label, 'Bias') == 0 ? [slice(datum.label, 0, 27), slice(datum.label, 28)] : [datum.label, ' ']", "labelFont": "Lato", "labelFontSize": 13.5, "labelColor": "#404040", "labelLimit": 300, "labelOffset": 4, "symbolSize": 70, "symbolStrokeWidth": 1.5, "rowPadding": 13}
    },
    "stroke": {"field": "series", "type": "nominal",
      "scale": {"domain": ["Bias Correction Model (10th Percentile)","Bias Correction Model (50th Percentile)","Bias Correction Model (90th Percentile)","Meta Model (50th Percentile)","Basin Transfer Model","Water Balance Model","Measured"],
        "range": ["#7d60a0","#ee7722","#c80000","#808080","#e0a000","#000000","#d4a06a"]},
      "legend": {"title": null, "orient": "none", "legendX": 302, "legendY": 22, "labelExpr": "indexof(datum.label, 'Bias') == 0 ? [slice(datum.label, 0, 27), slice(datum.label, 28)] : [datum.label, ' ']", "labelFont": "Lato", "labelFontSize": 13.5, "labelColor": "#404040", "labelLimit": 300, "labelOffset": 4, "symbolSize": 70, "symbolStrokeWidth": 1.5, "rowPadding": 13}
    },
    "fill": {"field": "series", "type": "nominal",
      "scale": {"domain": ["Bias Correction Model (10th Percentile)","Bias Correction Model (50th Percentile)","Bias Correction Model (90th Percentile)","Meta Model (50th Percentile)","Basin Transfer Model","Water Balance Model","Measured"],
        "range": ["transparent","transparent","transparent","#ffffff","#ffd700","#00cc00","#66ffff"]},
      "legend": {"title": null, "orient": "none", "legendX": 302, "legendY": 22, "labelExpr": "indexof(datum.label, 'Bias') == 0 ? [slice(datum.label, 0, 27), slice(datum.label, 28)] : [datum.label, ' ']", "labelFont": "Lato", "labelFontSize": 13.5, "labelColor": "#404040", "labelLimit": 300, "labelOffset": 4, "symbolSize": 70, "symbolStrokeWidth": 1.5, "rowPadding": 13}
    }
  },
  "layer": [
    {"transform": [{"filter": {"field": "series", "equal": "Bias Correction Model (10th Percentile)"}}], "mark": {"type": "point", "size": 60, "strokeWidth": 1.3, "opacity": 1}},
    {"transform": [{"filter": {"field": "series", "equal": "Bias Correction Model (50th Percentile)"}}], "mark": {"type": "point", "size": 80, "strokeWidth": 1.5, "opacity": 1}},
    {"transform": [{"filter": {"field": "series", "equal": "Bias Correction Model (90th Percentile)"}}], "mark": {"type": "point", "size": 90, "strokeWidth": 1.3, "opacity": 1}},
    {"transform": [{"filter": {"field": "series", "equal": "Meta Model (50th Percentile)"}}], "mark": {"type": "point", "size": 115, "strokeWidth": 1.5, "opacity": 1}},
    {"transform": [{"filter": {"field": "series", "equal": "Basin Transfer Model"}}], "mark": {"type": "point", "size": 130, "strokeWidth": 1, "opacity": 1}},
    {"transform": [{"filter": {"field": "series", "equal": "Water Balance Model"}}], "mark": {"type": "point", "size": 100, "strokeWidth": 1, "opacity": 1}},
    {"transform": [{"filter": {"field": "series", "equal": "Measured"}}], "mark": {"type": "point", "size": 110, "strokeWidth": 1.5, "opacity": 1}}
  ]
}
